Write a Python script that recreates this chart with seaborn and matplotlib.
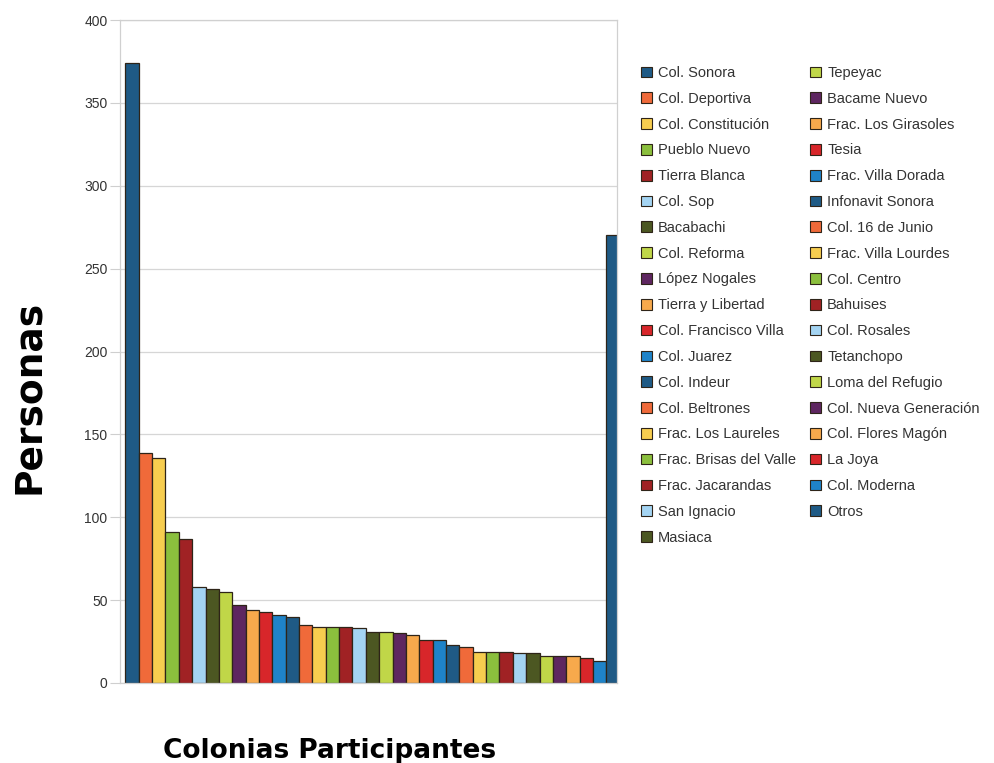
import matplotlib
matplotlib.use("Agg")
import matplotlib.pyplot as plt
from matplotlib import font_manager
import seaborn as sns
import pandas as pd

# Participants per neighbourhood
colonias = [
    "Col. Sonora", "Col. Deportiva", "Col. Constitución", "Pueblo Nuevo",
    "Tierra Blanca", "Col. Sop", "Bacabachi", "Col. Reforma", "López Nogales",
    "Tierra y Libertad", "Col. Francisco Villa", "Col. Juarez", "Col. Indeur",
    "Col. Beltrones", "Frac. Los Laureles", "Frac. Brisas del Valle",
    "Frac. Jacarandas", "San Ignacio", "Masiaca",
    "Tepeyac", "Bacame Nuevo", "Frac. Los Girasoles", "Tesia",
    "Frac. Villa Dorada", "Infonavit Sonora", "Col. 16 de Junio",
    "Frac. Villa Lourdes", "Col. Centro", "Bahuises", "Col. Rosales",
    "Tetanchopo", "Loma del Refugio", "Col. Nueva Generación",
    "Col. Flores Magón", "La Joya", "Col. Moderna", "Otros",
]
personas = [
    374, 139, 136, 91, 87, 58, 57, 55, 47, 44, 43, 41, 40, 35, 34, 34, 34, 33, 31,
    31, 30, 29, 26, 26, 23, 22, 19, 19, 19, 18, 18, 16, 16, 16, 15, 13, 270,
]
y_ticks = [0, 50, 100, 150, 200, 250, 300, 350, 400]

# Office-style series palette, repeated for every series
base_colors = [
    "#1f5a85", "#f06a3a", "#f7cd4f", "#8bbf3d", "#a02224", "#a4d4f2",
    "#4c5722", "#c0d648", "#5e2660", "#f7a94c", "#d8262a", "#1f83c8",
]
colors = [base_colors[i % len(base_colors)] for i in range(len(colonias))]

names = {f.name for f in font_manager.fontManager.ttflist}
narrow = "Liberation Sans Narrow" if "Liberation Sans Narrow" in names else "Liberation Sans"

sns.set_theme(style="white")
plt.rcParams["font.family"] = [narrow, "DejaVu Sans"]

df = pd.DataFrame({"Colonia": colonias, "Personas": personas})

fig = plt.figure(figsize=(9.95, 7.63), dpi=100)
ax = fig.add_axes([120 / 995, 1 - 683 / 763, 497 / 995, 663 / 763])

sns.barplot(
    data=df, x="Colonia", y="Personas", hue="Colonia",
    order=colonias, hue_order=colonias, palette=colors,
    dodge=False, width=1.0, saturation=1.0,
    edgecolor="#2e2418", linewidth=0.9, legend=True, ax=ax,
)

handles, labels = ax.get_legend_handles_labels()
if ax.get_legend() is not None:
    ax.get_legend().remove()

ax.set_ylim(0, 400)
ax.set_xlim(-0.9, len(colonias) - 0.7)
ax.set_yticks(y_ticks)
ax.set_yticklabels([str(v) for v in y_ticks], fontsize=10, color="#333333")
ax.set_xticks([])
ax.tick_params(axis="y", length=7, width=0.8, color="#cfcfcf", pad=2, left=True)
ax.yaxis.grid(True, color="#d6d6d6", linewidth=0.9)
ax.set_axisbelow(True)
for side in ["left", "right", "top", "bottom"]:
    ax.spines[side].set_visible(True)
    ax.spines[side].set_color("#d0d0d0")
    ax.spines[side].set_linewidth(0.9)

ax.set_xlabel("Colonias Participantes", fontsize=19, fontweight="bold",
              family="DejaVu Sans", color="black")
ax.xaxis.set_label_coords(0.4225, -0.113)
ax.xaxis.label.set_va("baseline")

ax.set_ylabel("Personas", fontsize=27, fontweight="bold",
              family="DejaVu Sans", color="black")
ax.yaxis.set_label_coords(-0.183, 0.432)
ax.yaxis.label.set_va("center")

for h in handles:
    h.set_edgecolor("#2e2418")
    h.set_linewidth(0.8)

fig.legend(
    handles, labels, ncol=2, loc="upper left",
    bbox_to_anchor=(641 / 995, 1 - 66 / 763),
    frameon=False, borderpad=0, borderaxespad=0,
    handlelength=0.75, handleheight=0.75, handletextpad=0.4,
    labelspacing=0.81, columnspacing=1.0,
    prop={"family": [narrow, "DejaVu Sans"], "size": 10.5},
    labelcolor="#333333",
)

fig.savefig("out.png", dpi=100, facecolor="white")
